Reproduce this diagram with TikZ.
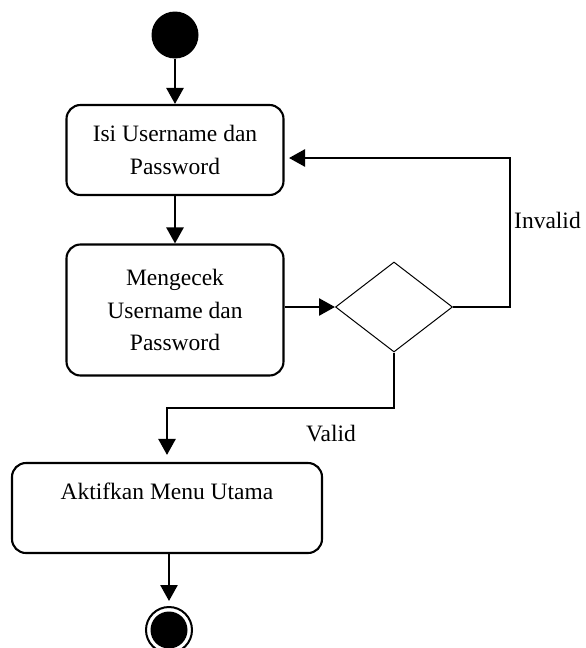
\documentclass[tikz,border=0pt]{standalone}
\usepackage{fontspec}
\setmainfont{Liberation Serif}
\usetikzlibrary{arrows.meta,shapes.geometric}
\tikzset{
  actbox/.style={draw,line width=2.1pt,rounded corners=14pt,inner sep=0pt},
  txt/.style={font=\fontsize{23.5}{32.5}\selectfont,align=center,inner sep=0pt},
  conn/.style={line width=2.6pt,-{Triangle[length=16pt,width=17pt]}},
}
\begin{document}
\begin{tikzpicture}[x=1pt,y=-1pt]
\useasboundingbox (0,0) rectangle (586,648);
% start
\node[circle,fill=black,minimum size=47pt,inner sep=0pt] (start) at (175,35) {};
% activities
\node[actbox,txt,minimum width=217pt,minimum height=90pt] (box1) at (175,150) {Isi Username dan\\Password};
\node[actbox,txt,minimum width=217pt,minimum height=131pt] (box2) at (175,310) {Mengecek\\Username dan\\Password};
\node[actbox,minimum width=310pt,minimum height=90pt] (box3) at (167,508) {};
\node[txt] (t3) at (167,491) {Aktifkan Menu Utama};
% decision
\node[diamond,draw,line width=1pt,minimum width=117pt,minimum height=90pt,inner sep=0pt] (dec) at (394,307) {};
% end
\node[circle,draw,line width=2pt,fill=white,minimum size=46pt,inner sep=0pt] (endo) at (169,630) {};
\node[circle,fill=black,minimum size=37pt,inner sep=0pt] (endi) at (169,630) {};
% coordinates
\coordinate (r1) at (510,307);
\coordinate (r2) at (510,158);
\coordinate (a1) at (289,158);
\coordinate (v1) at (394,408);
\coordinate (v2) at (167,408);
% connectors
\draw[conn] (start.south) -- (box1.north);
\draw[conn] (box1.south) -- (box2.north);
\draw[conn] (box2.east |- dec.west) -- (dec.west);
\draw[conn] (dec.east) -- (r1) -- (r2) -- (a1);
\draw[conn,shorten >=7pt] (dec.south) -- (v1) -- (v2) -- (box3.north);
\draw[conn,shorten >=5pt] (box3.south -| endo.north) -- (endo.north);
% labels
\node[txt,anchor=west] (linv) at (514,220) {Invalid};
\node[txt] (lval) at (331,434) {Valid};
\end{tikzpicture}
\end{document}
